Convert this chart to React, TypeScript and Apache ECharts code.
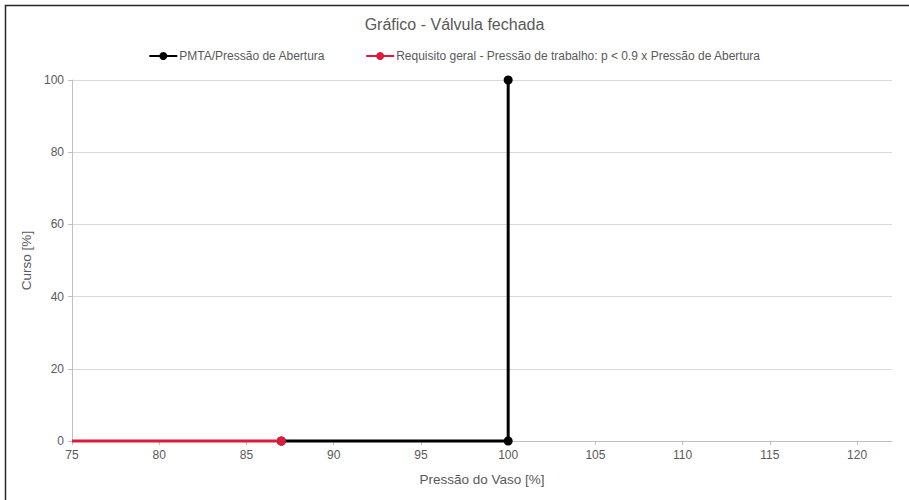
import React, { useEffect, useRef } from "react";
import * as echarts from "echarts";

const titleText = "Gráfico - Válvula fechada";
const seriesNames = [
  "PMTA/Pressão de Abertura",
  "Requisito geral - Pressão de trabalho: p < 0.9 x Pressão de Abertura",
];
const pmtaX = [87, 100, 100];
const pmtaY = [0, 0, 100];
const reqX = [75, 87];
const reqY = [0, 0];
const reqSymbolShown = [false, true];

export default function App() {
  const ref = useRef<HTMLDivElement>(null);
  useEffect(() => {
    if (!ref.current) return;
    const chart = echarts.init(ref.current, null, { renderer: "svg" });
    const txt = "#595959";
    const font = "Liberation Sans, Arial, sans-serif";
    chart.setOption({
      animation: false,
      backgroundColor: "#ffffff",
      textStyle: { fontFamily: font },
      graphic: [
        {
          type: "rect",
          shape: { x: 5.5, y: 5.5, width: 1000, height: 1000 },
          style: { fill: "none", stroke: "#262626", lineWidth: 1.5 },
          silent: true,
        },
      ],
      title: {
        text: titleText,
        left: "center",
        top: 11,
        textStyle: { fontSize: 16, fontWeight: "normal", color: txt, fontFamily: font },
      },
      legend: {
        top: 45,
        left: "center",
        itemWidth: 28,
        itemHeight: 10,
        itemGap: 40,
        textStyle: { fontSize: 12, color: txt, fontFamily: font, padding: [0, 0, 0, -3] },
        data: seriesNames,
      },
      grid: { left: 72, right: 17, top: 80, bottom: 59, containLabel: false },
      xAxis: {
        type: "value",
        min: 75,
        max: 122,
        interval: 5,
        name: "Pressão do Vaso [%]",
        nameLocation: "middle",
        nameGap: 31,
        nameTextStyle: { fontSize: 13.5, color: txt, fontFamily: font },
        axisLine: { show: true, lineStyle: { color: "#bfbfbf", width: 1 } },
        axisTick: { show: true, length: 4, lineStyle: { color: "#bfbfbf" } },
        axisLabel: { fontSize: 12, color: txt, fontFamily: font, margin: 8, showMaxLabel: false },
        splitLine: { show: false },
      },
      yAxis: {
        type: "value",
        min: 0,
        max: 100,
        interval: 20,
        name: "Curso [%]",
        nameLocation: "middle",
        nameGap: 36,
        nameTextStyle: { fontSize: 13.5, color: txt, fontFamily: font },
        axisLine: { show: true, lineStyle: { color: "#bfbfbf", width: 1 } },
        axisTick: { show: true, length: 4, lineStyle: { color: "#bfbfbf" } },
        axisLabel: { fontSize: 12, color: txt, fontFamily: font, margin: 8 },
        splitLine: { show: true, lineStyle: { color: "#d9d9d9", width: 1 } },
      },
      series: [
        {
          name: seriesNames[0],
          type: "line",
          data: pmtaX.map((x, i) => [x, pmtaY[i]]),
          color: "#000000",
          lineStyle: { color: "#000000", width: 3 },
          itemStyle: { color: "#000000" },
          symbol: "circle",
          symbolSize: 9,
          showAllSymbol: true,
          clip: false,
          z: 2,
        },
        {
          name: seriesNames[1],
          type: "line",
          data: reqX.map((x, i) => ({
            value: [x, reqY[i]],
            symbol: reqSymbolShown[i] ? "circle" : "none",
          })),
          color: "#dc1a3c",
          lineStyle: { color: "#dc1a3c", width: 3 },
          itemStyle: { color: "#dc1a3c" },
          symbol: "circle",
          symbolSize: 9,
          showAllSymbol: true,
          clip: false,
          z: 3,
        },
      ],
    });
    return () => chart.dispose();
  }, []);
  return (
    <div
      ref={ref}
      style={{ position: "fixed", left: 0, top: 0, width: 909, height: 500 }}
    />
  );
}
